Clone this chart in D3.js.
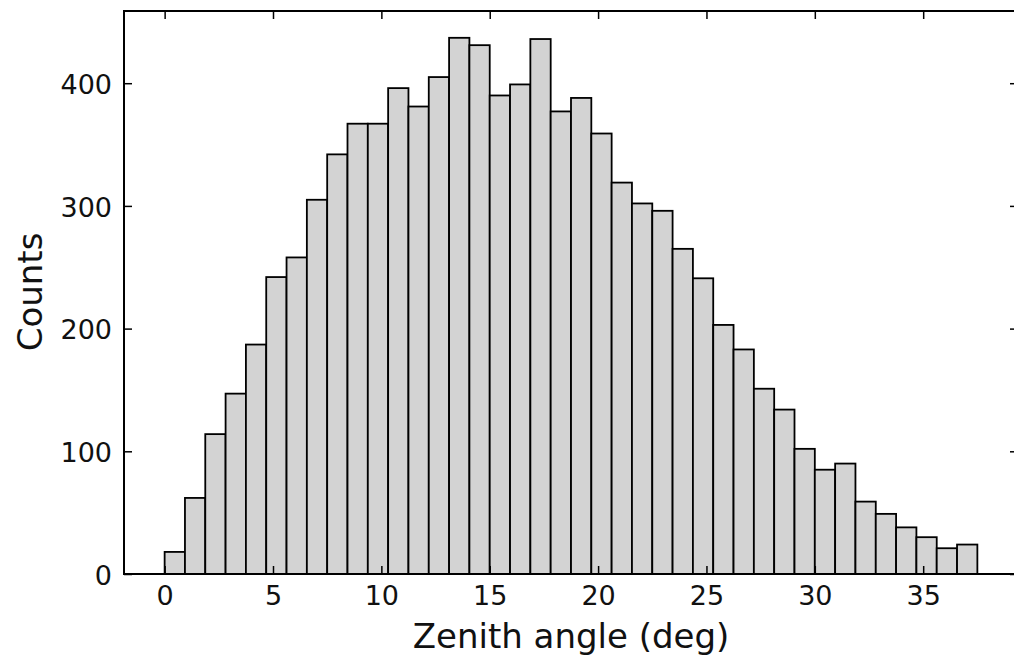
<!DOCTYPE html>
<html>
<head>
<meta charset="utf-8">
<script src="https://cdn.jsdelivr.net/npm/d3@7"></script>
<style>
  body { margin: 0; background: #fff; }
  text { font-family: "DejaVu Sans", sans-serif; fill: #111; }
</style>
</head>
<body>
<div id="chart"></div>
<script>
// DATA: histogram of zenith angles, 40 equal bins from 0 to 37.5 deg
const binStart = 0;
const binEnd = 37.5;
const counts = [
    18, 62, 114, 147, 187, 242, 258, 305, 342, 367,
    367, 396, 381, 405, 437, 431, 390, 399, 436, 377,
    388, 359, 319, 302, 296, 265, 241, 203, 183, 151,
    134, 102, 85, 90, 59, 49, 38, 30, 21, 24
];
const xTicks = [0, 5, 10, 15, 20, 25, 30, 35];
const yTicks = [0, 100, 200, 300, 400];
const xLabel = "Zenith angle (deg)";
const yLabel = "Counts";

// SETUP
const W = 1014, H = 657;
const plot = { left: 124, right: 1018, top: 11, bottom: 574 };

const svg = d3.select("#chart")
    .append("svg")
    .attr("width", W)
    .attr("height", H);

const binWidth = (binEnd - binStart) / counts.length;
const bins = counts.map((c, i) => ({
    x0: binStart + i * binWidth,
    x1: binStart + (i + 1) * binWidth,
    count: c
}));

// 5% padding on x like matplotlib, y sticks to 0
const xPad = (binEnd - binStart) * 0.05;
const xScale = d3.scaleLinear()
    .domain([binStart - xPad, binEnd + xPad])
    .range([plot.left, plot.right]);

const yScale = d3.scaleLinear()
    .domain([0, d3.max(counts) * 1.05])
    .range([plot.bottom, plot.top]);

// BARS
svg.append("g")
    .selectAll("rect")
    .data(bins)
    .enter()
    .append("rect")
    .attr("x", d => xScale(d.x0))
    .attr("y", d => yScale(d.count))
    .attr("width", d => xScale(d.x1) - xScale(d.x0))
    .attr("height", d => yScale(0) - yScale(d.count))
    .attr("fill", "#d3d3d3")
    .attr("stroke", "#000")
    .attr("stroke-width", 1.8);

// AXES (ticks point inward)
const tickLen = 8;
function styleAxis(g) {
    g.select(".domain").remove();
    g.selectAll(".tick line").attr("stroke", "#000").attr("stroke-width", 1.5);
}

svg.append("g")
    .attr("transform", `translate(0,${plot.bottom})`)
    .call(d3.axisBottom(xScale).tickValues(xTicks).tickSize(-tickLen).tickPadding(12))
    .call(styleAxis)
    .selectAll("text")
    .attr("font-size", "27px");

svg.append("g")
    .attr("transform", `translate(0,${plot.top})`)
    .call(d3.axisTop(xScale).tickValues(xTicks).tickSize(-tickLen).tickFormat(""))
    .call(styleAxis);

svg.append("g")
    .attr("transform", `translate(${plot.left},0)`)
    .call(d3.axisLeft(yScale).tickValues(yTicks).tickSize(-tickLen).tickPadding(12))
    .call(styleAxis)
    .selectAll("text")
    .attr("font-size", "27px")
    .attr("dy", "0.38em");

svg.append("g")
    .attr("transform", `translate(${plot.right},0)`)
    .call(d3.axisRight(yScale).tickValues(yTicks).tickSize(-tickLen).tickFormat(""))
    .call(styleAxis);

svg.selectAll(".tick text").attr("font-family", "DejaVu Sans").attr("fill", "#111");

// FRAME
svg.append("rect")
    .attr("x", plot.left)
    .attr("y", plot.top)
    .attr("width", plot.right - plot.left)
    .attr("height", plot.bottom - plot.top)
    .attr("fill", "none")
    .attr("stroke", "#000")
    .attr("stroke-width", 2);

// LABELS
svg.append("text")
    .attr("x", (plot.left + plot.right) / 2)
    .attr("y", 648)
    .attr("text-anchor", "middle")
    .attr("font-size", "34px")
    .text(xLabel);

svg.append("text")
    .attr("transform", "rotate(-90)")
    .attr("x", -292)
    .attr("y", 42)
    .attr("text-anchor", "middle")
    .attr("font-size", "34px")
    .text(yLabel);
</script>
</body>
</html>
